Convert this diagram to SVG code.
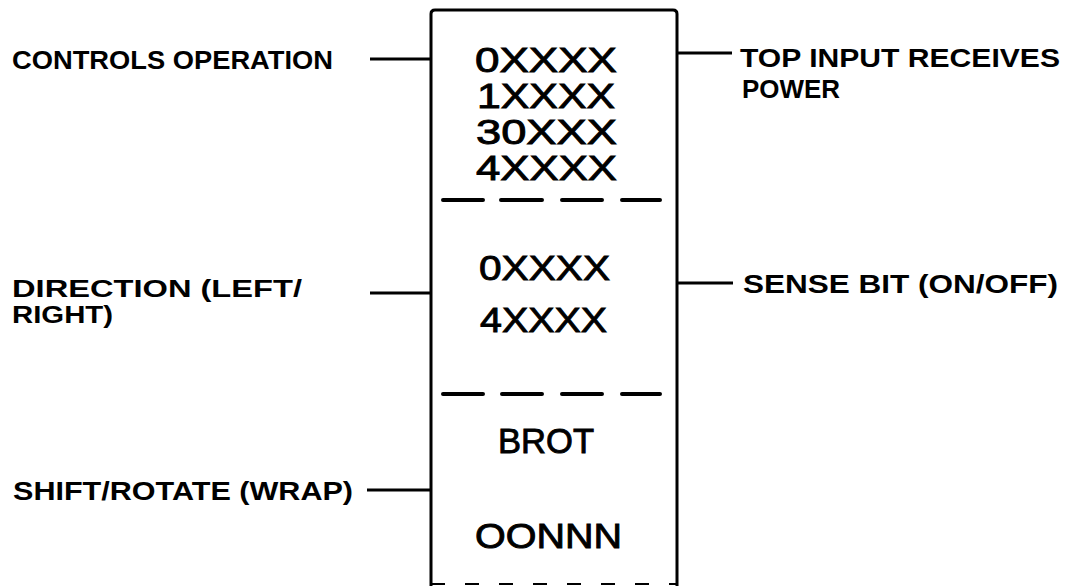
<svg xmlns="http://www.w3.org/2000/svg" width="1074" height="586" viewBox="0 0 1074 586">
<style>
.lbl{font-family:"Liberation Sans",Arial,sans-serif;font-weight:bold;font-size:26px;fill:#000}
.lbl2{font-family:"Liberation Sans",Arial,sans-serif;font-weight:bold;font-size:24px;fill:#000}
.code{font-family:"Liberation Sans",Arial,sans-serif;font-size:35px;fill:#000;stroke:#000;stroke-width:0.9}
.ln{stroke:#000;stroke-width:3;fill:none}
.dash{stroke:#000;stroke-width:4;stroke-linecap:round;fill:none}
</style>
<rect width="1074" height="586" fill="#fff"/>
<g id="block">
<path class="ln" d="M431,586 V14 Q431,10 435,10 H673 Q677,10 677,14 V586"/>
<path class="dash" d="M443,200 H483 M501,200 H542 M562,200 H602 M622,200 H660"/>
<path class="dash" d="M443,394 H483 M502,394 H542 M562,394 H602 M622,394 H660"/>
<path d="M431,584 H677" stroke="#000" stroke-width="2" stroke-dasharray="14,20" fill="none"/>
<text class="code" x="475" y="72" textLength="142" lengthAdjust="spacingAndGlyphs">0XXXX</text>
<text class="code" x="477" y="108" textLength="138" lengthAdjust="spacingAndGlyphs">1XXXX</text>
<text class="code" x="476" y="144" textLength="141" lengthAdjust="spacingAndGlyphs">30XXX</text>
<text class="code" x="476" y="180" textLength="141" lengthAdjust="spacingAndGlyphs">4XXXX</text>
<text class="code" x="479" y="280" textLength="131" lengthAdjust="spacingAndGlyphs">0XXXX</text>
<text class="code" x="480" y="332" textLength="127" lengthAdjust="spacingAndGlyphs">4XXXX</text>
<text class="code" x="498" y="453" textLength="96" lengthAdjust="spacingAndGlyphs">BROT</text>
<text class="code" x="475" y="548" textLength="147" lengthAdjust="spacingAndGlyphs">OONNN</text>
</g>
<g id="connectors">
<line class="ln" x1="370" y1="59" x2="431" y2="59"/>
<line class="ln" x1="677" y1="53" x2="732" y2="53"/>
<line class="ln" x1="370" y1="293" x2="431" y2="293"/>
<line class="ln" x1="677" y1="283" x2="733" y2="283"/>
<line class="ln" x1="367" y1="490" x2="431" y2="490"/>
</g>
<g id="label-controls">
<text class="lbl" x="12" y="69" textLength="321" lengthAdjust="spacingAndGlyphs">CONTROLS OPERATION</text>
</g>
<g id="label-top-input">
<text class="lbl" x="740" y="67" textLength="320" lengthAdjust="spacingAndGlyphs">TOP INPUT RECEIVES</text>
<text class="lbl" x="742" y="98" textLength="98" lengthAdjust="spacingAndGlyphs">POWER</text>
</g>
<g id="label-direction">
<text class="lbl2" x="12" y="297" textLength="290" lengthAdjust="spacingAndGlyphs">DIRECTION (LEFT/</text>
<text class="lbl2" x="12" y="323" textLength="101" lengthAdjust="spacingAndGlyphs">RIGHT)</text>
</g>
<g id="label-sense">
<text class="lbl" x="743" y="293" textLength="315" lengthAdjust="spacingAndGlyphs">SENSE BIT (ON/OFF)</text>
</g>
<g id="label-shift">
<text class="lbl" x="13" y="500" textLength="340" lengthAdjust="spacingAndGlyphs">SHIFT/ROTATE (WRAP)</text>
</g>
</svg>
